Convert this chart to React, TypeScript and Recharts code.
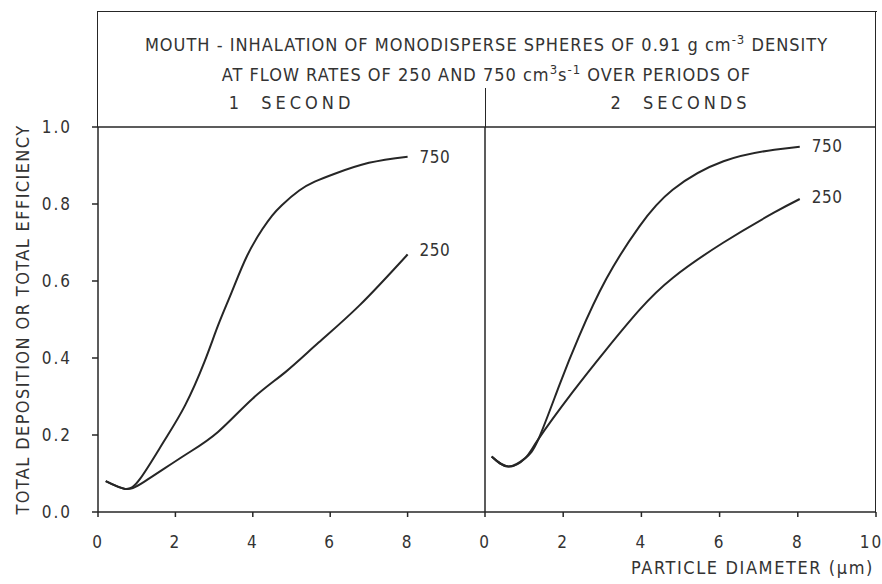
import React from 'react';
import { LabelList, Line, LineChart, ReferenceLine, XAxis, YAxis } from 'recharts';

// Mouth inhalation, monodisperse spheres 0.91 g cm-3, total deposition vs particle diameter (µm)

// 1 second, 750 cm3/s
const diam1s750 = [0.2, 0.7, 1.1, 1.7, 2.25, 2.75, 3.1, 3.45, 3.85, 4.25, 4.5, 4.75, 5.2, 5.6, 6.1, 7.0, 8.0];
const eff1s750 = [0.08, 0.06, 0.088, 0.183, 0.277, 0.39, 0.484, 0.57, 0.665, 0.735, 0.77, 0.797, 0.835, 0.858, 0.878, 0.907, 0.923];
// 1 second, 250 cm3/s
const diam1s250 = [0.2, 0.7, 1.2, 2.25, 3.1, 4.0, 4.85, 5.7, 6.75, 8.0];
const eff1s250 = [0.08, 0.06, 0.079, 0.148, 0.208, 0.295, 0.364, 0.44, 0.536, 0.669];
// 2 seconds, 750 cm3/s
const diam2s750 = [0.17, 0.6, 1.03, 1.37, 1.9, 2.4, 3.1, 3.95, 4.8, 6.1, 7.4, 8.05];
const eff2s750 = [0.144, 0.118, 0.14, 0.19, 0.329, 0.455, 0.605, 0.742, 0.837, 0.911, 0.941, 0.949];
// 2 seconds, 250 cm3/s
const diam2s250 = [0.17, 0.6, 1.03, 1.37, 2.23, 3.1, 3.95, 4.8, 6.1, 7.4, 8.05];
const eff2s250 = [0.144, 0.118, 0.14, 0.19, 0.31, 0.422, 0.525, 0.608, 0.7, 0.778, 0.813];

const yTicks = [0, 0.2, 0.4, 0.6, 0.8, 1.0];
const xTicksLeft = [0, 2, 4, 6, 8];
const xTicksRight = [0, 2, 4, 6, 8, 10];

const FONT = '"DejaVu Sans Condensed", "Liberation Sans Narrow", sans-serif';
const INK = '#262626';
const TEXT = '#333';

const toPoints = (xs: number[], ys: number[]) => xs.map((x, i) => ({ x, y: ys[i] }));

const endLabel = (text: string, count: number, dy: number) => (props: any) => {
  if (props.index !== count - 1) return null;
  return (
    <text
      x={Number(props.x) + 12}
      y={Number(props.y) + dy}
      dominantBaseline="central"
      fill={TEXT}
      fontSize={17}
      fontFamily={FONT}
      letterSpacing={0.5}
    >
      {text}
    </text>
  );
};

const tickStyle = { fill: TEXT, fontSize: 17, fontFamily: FONT, letterSpacing: 2 };

function line(data: { x: number; y: number }[], label: string, dy: number) {
  return (
    <Line
      data={data}
      dataKey="y"
      type="natural"
      stroke={INK}
      strokeWidth={2}
      dot={false}
      isAnimationActive={false}
    >
      <LabelList dataKey="y" content={endLabel(label, data.length, dy)} />
    </Line>
  );
}

const hr = (left: number, top: number, width: number) => (
  <div style={{ position: 'absolute', left, top, width, height: 0, borderTop: `1.5px solid ${INK}` }} />
);
const vr = (left: number, top: number, height: number) => (
  <div style={{ position: 'absolute', left, top, width: 0, height, borderLeft: `1.5px solid ${INK}` }} />
);

export default function App() {
  const sup = (t: string) => (
    <span style={{ fontSize: 13, position: 'relative', top: -7 }}>{t}</span>
  );
  const heading = { position: 'absolute' as const, lineHeight: '20px', textAlign: 'center' as const, fontSize: 18 };

  return (
    <div
      style={{
        position: 'fixed',
        left: 0,
        top: 0,
        width: 882,
        height: 584,
        background: '#fff',
        overflow: 'hidden',
        fontFamily: FONT,
        color: TEXT,
      }}
    >
      {/* frame round the title and panels */}
      {hr(97, 11, 780)}
      {vr(97, 11, 116)}
      {vr(875, 11, 502)}
      {vr(484.5, 88, 39)}

      <div style={{ ...heading, left: 97, top: 35, width: 779, letterSpacing: 1 }}>
        MOUTH - INHALATION OF MONODISPERSE SPHERES OF 0.91 g cm{sup('-3')} DENSITY
      </div>
      <div style={{ ...heading, left: 97, top: 65, width: 779, letterSpacing: 1 }}>
        AT FLOW RATES OF 250 AND 750 cm{sup('3')}s{sup('-1')} OVER PERIODS OF
      </div>
      <div style={{ ...heading, left: 98, top: 93, width: 387, letterSpacing: 4, whiteSpace: 'pre' }}>
        {'1  SECOND'}
      </div>
      <div style={{ ...heading, left: 485, top: 93, width: 391, letterSpacing: 4, whiteSpace: 'pre' }}>
        {'2  SECONDS'}
      </div>

      <div style={{ position: 'absolute', left: 0, top: 0 }}>
        <LineChart width={500} height={584} margin={{ top: 127, right: 15, bottom: 0, left: 0 }}>
          <XAxis
            type="number"
            dataKey="x"
            domain={[0, 10]}
            ticks={xTicksLeft}
            allowDuplicatedCategory={false}
            height={72}
            tickSize={5}
            tickMargin={19}
            stroke={INK}
            strokeWidth={1.5}
            tick={tickStyle}
          />
          <YAxis
            type="number"
            domain={[0, 1]}
            ticks={yTicks}
            width={98}
            tickSize={6}
            tickMargin={20}
            stroke={INK}
            strokeWidth={1.5}
            tick={tickStyle}
            tickFormatter={(v: number) => v.toFixed(1)}
            label={(props: any) => {
              const vb = props.viewBox || { x: 0, y: 127, width: 98, height: 385 };
              const cx = vb.x + 22;
              const cy = vb.y + vb.height / 2;
              return (
                <text
                  x={cx}
                  y={cy}
                  transform={`rotate(-90, ${cx}, ${cy})`}
                  textAnchor="middle"
                  dominantBaseline="central"
                  fill={TEXT}
                  fontSize={18}
                  fontFamily={FONT}
                  letterSpacing={1.4}
                >
                  TOTAL DEPOSITION OR TOTAL EFFICIENCY
                </text>
              );
            }}
          />
          <ReferenceLine y={1} stroke={INK} strokeWidth={1.5} />
          {line(toPoints(diam1s750, eff1s750), '750', 0)}
          {line(toPoints(diam1s250, eff1s250), '250', -4)}
        </LineChart>
      </div>

      <div style={{ position: 'absolute', left: 427, top: 0 }}>
        <LineChart width={455} height={584} margin={{ top: 127, right: 6, bottom: 0, left: 0 }}>
          <XAxis
            type="number"
            dataKey="x"
            domain={[0, 10]}
            ticks={xTicksRight}
            allowDuplicatedCategory={false}
            height={72}
            tickSize={5}
            tickMargin={19}
            stroke={INK}
            strokeWidth={1.5}
            tick={tickStyle}
            label={(props: any) => {
              const vb = props.viewBox || { x: 58, y: 512, width: 391, height: 72 };
              return (
                <text
                  x={vb.x + vb.width - 2}
                  y={574}
                  textAnchor="end"
                  fill={TEXT}
                  fontSize={18}
                  fontFamily={FONT}
                  letterSpacing={1.6}
                >
                  PARTICLE DIAMETER (µm)
                </text>
              );
            }}
          />
          <YAxis
            type="number"
            domain={[0, 1]}
            ticks={yTicks}
            width={58}
            tick={false}
            tickLine={false}
            stroke={INK}
            strokeWidth={1.5}
          />
          <ReferenceLine y={1} stroke={INK} strokeWidth={1.5} />
          {line(toPoints(diam2s750, eff2s750), '750', -1)}
          {line(toPoints(diam2s250, eff2s250), '250', -2)}
        </LineChart>
      </div>
    </div>
  );
}
